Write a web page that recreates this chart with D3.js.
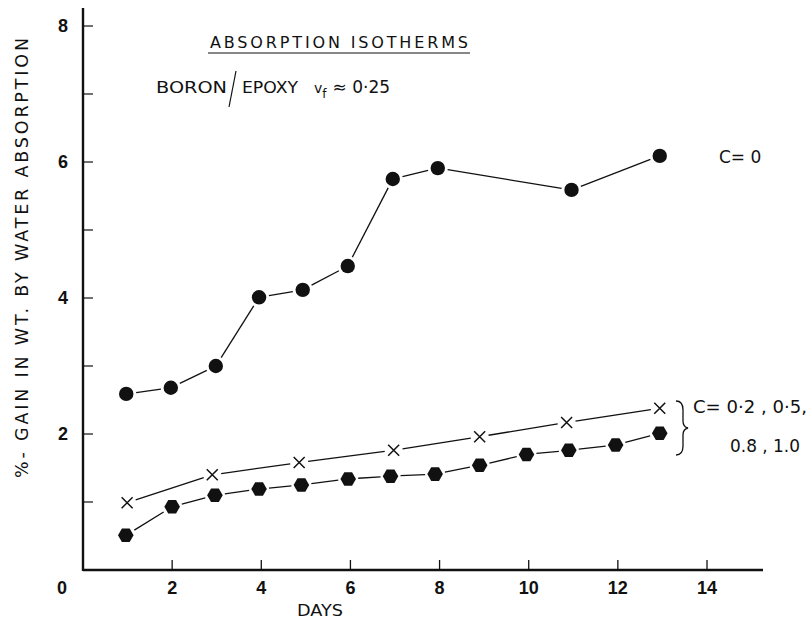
<!DOCTYPE html>
<html>
<head>
<meta charset="utf-8">
<script src="https://cdn.jsdelivr.net/npm/d3@7"></script>
<style>
  body { margin: 0; background: #fff; }
  svg text { fill: #111; }
</style>
</head>
<body>
<div id="chart"></div>
<script>
// data
var days_c0   = [0.97, 1.97, 2.98, 3.95, 4.93, 5.94, 6.95, 7.96, 10.96, 12.94];
var gain_c0   = [2.59, 2.68, 3.00, 4.01, 4.12, 4.47, 5.75, 5.91, 5.59, 6.09];

var days_x    = [0.99, 2.9, 4.85, 6.97, 8.9, 10.85, 12.94];
var gain_x    = [0.99, 1.40, 1.58, 1.76, 1.96, 2.17, 2.38];

var days_hex  = [0.96, 2.0, 2.96, 3.95, 4.9, 5.95, 6.9, 7.9, 8.9, 9.95, 10.9, 11.95, 12.94];
var gain_hex  = [0.51, 0.93, 1.10, 1.19, 1.25, 1.34, 1.38, 1.41, 1.54, 1.70, 1.76, 1.84, 2.01];

var xTicks      = [2, 4, 6, 8, 10, 12, 14];
var yTicksMajor = [2, 4, 6, 8];
var yTicksAll   = [1, 2, 3, 4, 5, 6, 7, 8];

var svgW = 810, svgH = 621;

var svg = d3.select("#chart").append("svg")
    .attr("width", svgW)
    .attr("height", svgH);

// scales
var x = d3.scaleLinear().domain([0, 14]).range([83, 707]);
var y = d3.scaleLinear().domain([0, 8]).range([570, 26]);

var ink = "#111";
var labelFont = "'DejaVu Sans', Verdana, sans-serif";
var tickFont = "'Liberation Sans', Arial, sans-serif";

// axes lines
svg.append("line")
    .attr("x1", x(0)).attr("x2", 763)
    .attr("y1", y(0)).attr("y2", y(0))
    .attr("stroke", ink).attr("stroke-width", 2.4);
svg.append("line")
    .attr("x1", x(0)).attr("x2", x(0))
    .attr("y1", y(0) + 1).attr("y2", 8)
    .attr("stroke", ink).attr("stroke-width", 2.4);

// x ticks (inward)
svg.selectAll(".xtick").data(xTicks).enter().append("line")
    .attr("x1", function(d) { return x(d); })
    .attr("x2", function(d) { return x(d); })
    .attr("y1", y(0)).attr("y2", y(0) - 10)
    .attr("stroke", ink).attr("stroke-width", 1.3);

svg.selectAll(".xlab").data([0].concat(xTicks)).enter().append("text")
    .attr("x", function(d) { return d == 0 ? 62 : x(d); })
    .attr("y", 594)
    .attr("text-anchor", "middle")
    .style("font-family", tickFont)
    .style("font-weight", "bold")
    .style("font-size", "18px")
    .text(function(d) { return d; });

// y ticks (inward)
svg.selectAll(".ytick").data(yTicksAll).enter().append("line")
    .attr("x1", x(0)).attr("x2", x(0) + 10)
    .attr("y1", function(d) { return y(d); })
    .attr("y2", function(d) { return y(d); })
    .attr("stroke", ink).attr("stroke-width", 1.2);

svg.selectAll(".ylab").data(yTicksMajor).enter().append("text")
    .attr("x", 63)
    .attr("y", function(d) { return y(d) + 6; })
    .attr("text-anchor", "middle")
    .style("font-family", tickFont)
    .style("font-weight", "bold")
    .style("font-size", "18px")
    .text(function(d) { return d; });

// axis titles
svg.append("text")
    .attr("x", 297).attr("y", 616)
    .attr("textLength", 46).attr("lengthAdjust", "spacingAndGlyphs")
    .style("font-family", labelFont).style("font-size", "16px")
    .text("DAYS");

svg.append("text")
    .attr("transform", "translate(28,478) rotate(-90)")
    .attr("textLength", 440).attr("lengthAdjust", "spacing")
    .style("font-family", labelFont).style("font-size", "17.5px")
    .text("%- GAIN IN WT. BY WATER ABSORPTION");

// title block
svg.append("text")
    .attr("x", 210).attr("y", 48)
    .attr("textLength", 258).attr("lengthAdjust", "spacing")
    .style("font-family", labelFont).style("font-size", "16px")
    .text("ABSORPTION   ISOTHERMS");
svg.append("line")
    .attr("x1", 208).attr("x2", 470).attr("y1", 53).attr("y2", 53)
    .attr("stroke", ink).attr("stroke-width", 1.2);

svg.append("text")
    .attr("x", 156).attr("y", 93)
    .attr("textLength", 71).attr("lengthAdjust", "spacingAndGlyphs")
    .style("font-family", labelFont).style("font-size", "16px")
    .text("BORON");
svg.append("line")
    .attr("x1", 236).attr("y1", 71).attr("x2", 229).attr("y2", 107)
    .attr("stroke", ink).attr("stroke-width", 1.2);
svg.append("text")
    .attr("x", 242).attr("y", 93)
    .attr("textLength", 56).attr("lengthAdjust", "spacingAndGlyphs")
    .style("font-family", labelFont).style("font-size", "16px")
    .text("EPOXY");
var vf = svg.append("text")
    .attr("x", 314).attr("y", 93)
    .style("font-family", labelFont).style("font-size", "17px");
vf.append("tspan").style("font-size", "14px").text("v");
vf.append("tspan").attr("dy", 5).style("font-size", "12px").text("f");
vf.append("tspan").attr("dy", -5).attr("dx", 6).text("≈ 0·25");

// right annotations
svg.append("text")
    .attr("x", 719).attr("y", 163)
    .style("font-family", labelFont).style("font-size", "17px")
    .text("C= 0");
svg.append("text")
    .attr("x", 693).attr("y", 413)
    .attr("textLength", 114).attr("lengthAdjust", "spacingAndGlyphs")
    .style("font-family", labelFont).style("font-size", "17px")
    .text("C= 0·2 , 0·5,");
svg.append("text")
    .attr("x", 730).attr("y", 452)
    .attr("textLength", 70).attr("lengthAdjust", "spacingAndGlyphs")
    .style("font-family", labelFont).style("font-size", "17px")
    .text("0.8 , 1.0");

// brace
svg.append("path")
    .attr("d", "M676,401 Q683,401 683,410 L683,421 Q683,427 688,428 Q683,429 683,435 L683,446 Q683,455 676,455")
    .attr("fill", "none").attr("stroke", ink).attr("stroke-width", 1.3);

// segment helper: lines between markers, broken near each marker
function drawSegments(xs, ys, gap) {
    var pts = xs.map(function(d, i) { return [x(d), y(ys[i])]; });
    var segs = d3.pairs(pts);
    svg.selectAll(null).data(segs).enter().append("line")
        .each(function(s) {
            var dx = s[1][0] - s[0][0], dy = s[1][1] - s[0][1];
            var len = Math.sqrt(dx * dx + dy * dy);
            var ux = dx / len, uy = dy / len;
            d3.select(this)
                .attr("x1", s[0][0] + ux * gap).attr("y1", s[0][1] + uy * gap)
                .attr("x2", s[1][0] - ux * gap).attr("y2", s[1][1] - uy * gap);
        })
        .attr("stroke", ink).attr("stroke-width", 1.3);
}

drawSegments(days_c0, gain_c0, 10);
drawSegments(days_x, gain_x, 9);
drawSegments(days_hex, gain_hex, 10);

// C = 0 markers
svg.selectAll(".dot").data(days_c0).enter().append("circle")
    .attr("cx", function(d) { return x(d); })
    .attr("cy", function(d, i) { return y(gain_c0[i]); })
    .attr("r", 7.2)
    .attr("fill", ink);

// cross markers
var cs = 5.5;
svg.selectAll(".cross").data(days_x).enter().append("path")
    .attr("d", function(d, i) {
        var cx = x(d), cy = y(gain_x[i]);
        return "M" + (cx - cs) + "," + (cy - cs) + "L" + (cx + cs) + "," + (cy + cs) +
               "M" + (cx - cs) + "," + (cy + cs) + "L" + (cx + cs) + "," + (cy - cs);
    })
    .attr("stroke", ink).attr("stroke-width", 1.5).attr("fill", "none");

// hexagon markers
var hr = 7.8;
svg.selectAll(".hex").data(days_hex).enter().append("path")
    .attr("d", function(d, i) {
        var cx = x(d), cy = y(gain_hex[i]);
        var p = d3.range(6).map(function(k) {
            var a = k * Math.PI / 3;
            return [cx + hr * Math.cos(a), cy + hr * Math.sin(a)];
        });
        return "M" + p.join("L") + "Z";
    })
    .attr("fill", ink);
</script>
</body>
</html>
